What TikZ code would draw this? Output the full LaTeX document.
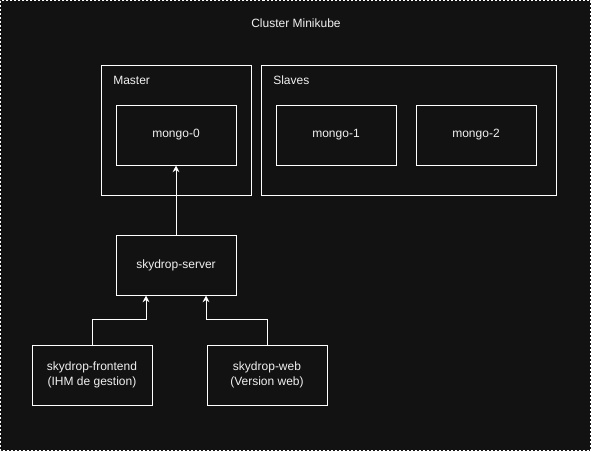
\documentclass[tikz,border=0pt]{standalone}
\usepackage{fontspec}
\setmainfont{Liberation Sans}
\usetikzlibrary{arrows.meta}
\definecolor{bgdark}{HTML}{121212}
\definecolor{fgtext}{HTML}{F0F0F0}
\tikzset{
  box/.style={draw=white, line width=0.75pt, rectangle, inner sep=0pt,
    minimum width=90pt, minimum height=45pt, text=fgtext,
    font=\fontsize{9}{11}\selectfont, align=center},
  group/.style={draw=white, line width=0.75pt, rectangle, inner sep=0pt,
    minimum height=97.5pt},
  title/.style={text=fgtext, font=\fontsize{9}{11}\selectfont, inner sep=0pt},
  link/.style={draw=white, line width=0.75pt, -{Stealth[length=5pt,width=5pt]}}
}
\begin{document}
\begin{tikzpicture}[x=0.75pt,y=-0.75pt]
            % Background and cluster frame
            \useasboundingbox[fill=bgdark] (0,0) rectangle (591,451);
            \draw[white, line width=0.75pt, dash pattern=on 1.5pt off 1.5pt] (0.5,0.5) rectangle (590.5,450.5);
            \node[title] (cluster) at (296,23) {Cluster Minikube};

            % Master and slaves groups
            \node[group, minimum width=112.5pt] (master) at (176,130) {};
            \node[group, minimum width=221.25pt] (slaves) at (408.5,130) {};
            \node[title, anchor=west] (mastertitle) at (113,80) {Master};
            \node[title, anchor=west] (slavestitle) at (273,80) {Slaves};

            % Mongo pods
            \node[box] (mongo0) at (176,135) {mongo-0};
            \node[box] (mongo1) at (336,135) {mongo-1};
            \node[box] (mongo2) at (476,135) {mongo-2};

            % Skydrop services
            \node[box] (server) at (176,265) {skydrop-server};
            \node[box] (frontend) at (92,375) {skydrop-frontend\\(IHM de gestion)};
            \node[box] (web) at (267,375) {skydrop-web\\(Version web)};

            % Connections
            \draw[link] (server.north) -- (mongo0.south);
            \draw[link] (frontend.north) -- ++(0,-25) -| ([xshift=-22.5pt]server.south);
            \draw[link] (web.north) -- ++(0,-25) -| ([xshift=22.5pt]server.south);
        \end{tikzpicture}
\end{document}
